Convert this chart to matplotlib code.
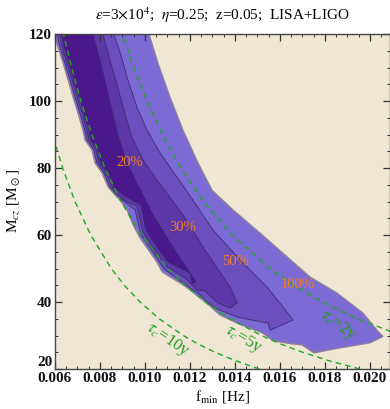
import numpy as np
import matplotlib.pyplot as plt

plt.rcParams['font.family'] = ['Liberation Serif', 'DejaVu Serif']
plt.rcParams['mathtext.fontset'] = 'stix'

# region inside the 100% contour (f_min [Hz], M_cz [Msun])
f100 = [0.0058, 0.01012, 0.01018, 0.01058, 0.01111, 0.01169, 0.01236, 0.01298, 0.01391, 0.01511,
        0.01613, 0.01733, 0.01853, 0.01969, 0.02031, 0.02058, 0.02000, 0.01867, 0.01751, 0.01698,
        0.01653, 0.01569, 0.01524, 0.01453, 0.01409, 0.01333, 0.01289, 0.01244, 0.01200, 0.01156,
        0.01111, 0.01076, 0.01053, 0.01022, 0.00978, 0.00947, 0.00920, 0.00889, 0.00867, 0.00836,
        0.00809, 0.00778, 0.00764, 0.00733, 0.00724, 0.00702, 0.00680, 0.00658, 0.00636, 0.00613]
m100 = [123, 123, 120.0, 111.3, 101.2, 91.3, 81.5, 73.4, 67.5, 60.6,
        54.6, 47.5, 42.7, 36.7, 31.6, 29.7, 27.8, 26.3, 24.8, 27.2,
        27.5, 28.4, 30.7, 32.5, 33.7, 36.1, 38.8, 41.2, 43.6, 45.7,
        47.5, 49.0, 51.9, 54.9, 59.1, 63.0, 67.5, 70.4, 71.9, 74.3,
        78.5, 81.5, 85.4, 88.4, 91.3, 96.4, 101.2, 106.3, 111.3, 116.1]

# inside 50%
f50 = [0.00600, 0.00858, 0.00862, 0.00893, 0.00920, 0.00964, 0.01009, 0.01067, 0.01142, 0.01213,
       0.01302, 0.01436, 0.01542, 0.01600, 0.01658, 0.01556, 0.01547, 0.01409, 0.01356, 0.01311,
       0.01267, 0.01240, 0.01213, 0.01164, 0.01084, 0.01036, 0.00982, 0.00956, 0.00898, 0.00876,
       0.00844, 0.00818, 0.00787, 0.00773, 0.00742, 0.00733, 0.00711, 0.00689, 0.00667, 0.00644,
       0.00622]
m50 = [123, 123, 120.0, 113.7, 107.2, 98.2, 91.3, 84.5, 77.3, 70.4,
       61.5, 51.6, 44.5, 39.7, 34.6, 31.6, 33.7, 35.5, 37.0, 38.2,
       40.6, 42.4, 43.6, 46.0, 49.9, 54.9, 60.0, 67.5, 70.4, 71.9,
       74.3, 78.5, 81.5, 85.4, 88.4, 91.3, 96.4, 101.2, 106.3, 111.3,
       116.1]

# inside 30%
f30 = [0.00612, 0.00809, 0.00813, 0.00844, 0.00876, 0.00907, 0.00938, 0.00991, 0.01053, 0.01169,
       0.01267, 0.01378, 0.01409, 0.01378, 0.01324, 0.01289, 0.01267, 0.01231, 0.01178, 0.01093,
       0.01044, 0.00991, 0.00964, 0.00929, 0.00907, 0.00884, 0.00853, 0.00827, 0.00796, 0.00782,
       0.00751, 0.00742, 0.00720, 0.00698, 0.00676, 0.00653, 0.00631]
m30 = [123, 123, 120.0, 112.2, 104.8, 97.3, 89.9, 82.4, 76.4, 66.0,
       55.5, 44.5, 39.7, 38.2, 39.7, 41.8, 43.3, 43.6, 47.2, 50.7,
       55.5, 60.9, 68.7, 69.6, 70.4, 71.9, 74.3, 78.5, 81.5, 85.4,
       88.4, 91.3, 96.4, 101.2, 106.3, 111.3, 116.1]

# inside 20%
f20 = [0.00622, 0.00764, 0.00769, 0.00800, 0.00827, 0.00853, 0.00880, 0.00920, 0.00969, 0.01036,
       0.01133, 0.01227, 0.01209, 0.01200, 0.01102, 0.01053, 0.01004, 0.00982, 0.00942, 0.00898,
       0.00862, 0.00836, 0.00804, 0.00791, 0.00760, 0.00751, 0.00729, 0.00707, 0.00684, 0.00662,
       0.00640]
m20 = [123, 123, 120.0, 112.2, 104.8, 97.3, 89.9, 81.5, 74.9, 66.0,
       55.5, 46.0, 45.4, 48.7, 51.9, 56.4, 61.5, 69.0, 70.4, 72.2,
       74.3, 78.5, 81.5, 85.4, 88.4, 91.3, 96.4, 101.2, 106.3, 111.3,
       116.1]

# constant coalescence-time curves
m_tau = [20, 22.5, 25, 27.5, 30, 35, 40, 45, 50, 60, 70, 80, 90, 100, 110, 120]
f_tau2 = [0.02758, 0.02562, 0.02399, 0.02260, 0.02140, 0.01944, 0.01788, 0.01661, 0.01555,
          0.01388, 0.01260, 0.01159, 0.01077, 0.01009, 0.00950, 0.00900]
f_tau5 = [0.01955, 0.01816, 0.01700, 0.01602, 0.01517, 0.01378, 0.01268, 0.01178, 0.01102,
          0.00984, 0.00893, 0.00822, 0.00764, 0.00715, 0.00674, 0.00638]
f_tau10 = [0.01508, 0.01401, 0.01311, 0.01235, 0.01170, 0.01063, 0.00978, 0.00908, 0.00850,
           0.00759, 0.00689, 0.00634, 0.00589, 0.00552, 0.00520, 0.00492]

pct_labels = ['20%', '30%', '50%', '100%']
pct_f = [0.00933, 0.01169, 0.01404, 0.01680]
pct_m = [81.5, 62.1, 52.2, 45.1]

tau_labels = [r'$\tau_c$=10y', r'$\tau_c$=5y', r'$\tau_c$=2y']
tau_f = [0.01102, 0.01436, 0.01858]
tau_m = [28.7, 29.0, 33.1]
tau_rot = [-34, -31, -36]

xtick_vals = [0.006, 0.008, 0.010, 0.012, 0.014, 0.016, 0.018, 0.020]
xtick_text = ['0.006', '0.008', '0.010', '0.012', '0.014', '0.016', '0.018', '0.020']
ytick_vals = [20, 40, 60, 80, 100, 120]

fig = plt.figure(figsize=(3.9, 4.09), dpi=100)
ax = fig.add_axes([0.141, 0.0978, 0.859, 0.819])
ax.set_facecolor('#EFE6D4')

ax.fill(f100, m100, facecolor='#7C6BD4', edgecolor='#8E8294', lw=0.9)
ax.fill(f50, m50, facecolor='#6B4FBC', edgecolor='#3E2C6E', lw=0.6)
ax.fill(f30, m30, facecolor='#5C37A6', edgecolor='#3E2C6E', lw=0.6)
ax.fill(f20, m20, facecolor='#4A188A', edgecolor='#3E2C6E', lw=0.6)

for ft in [f_tau2, f_tau5, f_tau10]:
    ax.plot(ft, m_tau, color='#22A822', lw=1.0, ls=(0, (4, 3)))

for t, x, y in zip(pct_labels, pct_f, pct_m):
    ax.text(x, y, t, color='#F27E1C', fontsize=10.5, ha='center', va='center')

for t, x, y, r in zip(tau_labels, tau_f, tau_m, tau_rot):
    ax.text(x, y, t, color='#1E9E1E', fontsize=12, ha='center', va='center',
            rotation=r, rotation_mode='anchor')

ax.set_xlim(0.006, 0.02089)
ax.set_ylim(20, 120)
ax.set_xticks(xtick_vals)
ax.set_xticklabels(xtick_text, fontweight='bold')
ax.set_xticks(np.arange(0.006, 0.021, 0.0005), minor=True)
ax.set_yticks(ytick_vals)
ax.set_yticklabels([str(v) for v in ytick_vals], fontweight='bold')
ax.set_yticks(np.arange(20, 121, 5), minor=True)
ax.tick_params(which='both', direction='in', top=True, right=True, colors='#333333',
               labelcolor='#111111', labelsize=11, pad=2)
ax.tick_params(which='major', length=5, width=0.9)
ax.tick_params(which='minor', length=2.5, width=0.7)
ax.get_yticklabels()[0].set_va('bottom')
for s in ax.spines.values():
    s.set_color('#444444')
    s.set_linewidth(1.0)

ax.set_title(r'$\epsilon$=3$\times$10$^4$;  $\eta$=0.25;  z=0.05;  LISA+LIGO', fontsize=11, pad=10)
ax.set_xlabel(r'f$_{\rm min}$ [Hz]', fontsize=11, labelpad=2)
ax.set_ylabel(r'M$_{cz}$ [M$_\odot$]', fontsize=11, labelpad=5)

fig.savefig('out.png', dpi=100)
